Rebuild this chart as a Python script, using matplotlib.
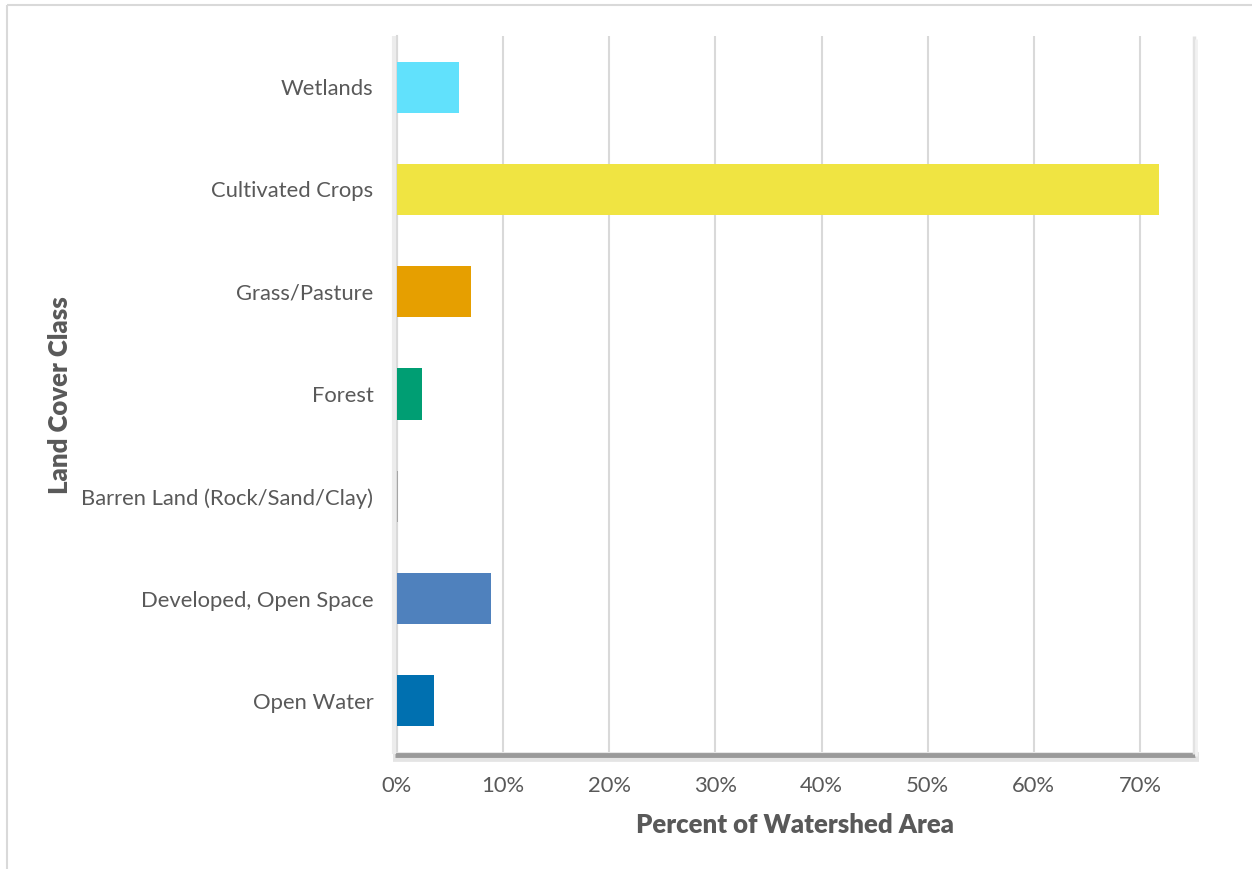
"""
Land cover breakdown of the watershed as a horizontal bar chart.
"""

import matplotlib.pyplot as plt
import numpy as np
from matplotlib.lines import Line2D
from matplotlib.ticker import FuncFormatter

# bottom -> top, as drawn on the category axis
classes = [
    "Open Water",
    "Developed, Open Space",
    "Barren Land (Rock/Sand/Clay)",
    "Forest",
    "Grass/Pasture",
    "Cultivated Crops",
    "Wetlands",
]
percent = [3.5, 8.9, 0.1, 2.4, 7.0, 71.8, 5.8]
colors = ["#0070B0", "#4F81BD", "#A6A6A6", "#009E73", "#E69F00", "#F0E442", "#61E1FC"]
xticks = [0, 10, 20, 30, 40, 50, 60, 70]

TEXT = "#595959"
GRID = "#D9D9D9"

plt.rcParams["font.family"] = ["Lato", "DejaVu Sans"]

W, H = 1252, 869
fig = plt.figure(figsize=(W / 100, H / 100), dpi=100)

# plot area in pixels: left, top, right, bottom
pl, pt, pr, pb = 397, 36, 1193, 752
ax = fig.add_axes([pl / W, 1 - pb / H, (pr - pl) / W, (pb - pt) / H])

y = np.arange(len(classes))
ax.barh(y, percent, height=0.5, color=colors, zorder=5)

ax.set_xlim(0, 75)
ax.set_ylim(-0.5, len(classes) - 0.5)
ax.set_xticks(xticks)
ax.xaxis.set_major_formatter(FuncFormatter(lambda v, _: f"{v:.0f}%"))
ax.set_yticks(y)
ax.set_yticklabels(classes)
ax.tick_params(axis="both", length=0, labelsize=15.8, labelcolor=TEXT)
ax.tick_params(axis="x", pad=17)
ax.tick_params(axis="y", pad=17)
ax.grid(axis="x", color=GRID, lw=1.5, zorder=0)

for side in ("top", "right", "bottom"):
    ax.spines[side].set_visible(False)
ax.spines["left"].set_color(GRID)
ax.spines["left"].set_linewidth(1.5)
ax.spines["left"].set_zorder(4)

# axis titles placed on the figure
fig.text(795 / W, 1 - 825 / H, "Percent of Watershed Area", fontsize=18.5,
         fontweight="heavy", color=TEXT, ha="center", va="center")
fig.text(60 / W, 1 - 395 / H, "Land Cover Class", fontsize=18.5,
         fontweight="heavy", color=TEXT, ha="center", va="center", rotation=90)


def fx(px):
    return px / W


def fy(px):
    return 1 - px / H


def line(x0, y0, x1, y1, color, lw):
    fig.add_artist(Line2D([fx(x0), fx(x1)], [fy(y0), fy(y1)], color=color,
                          lw=lw, solid_capstyle="butt", transform=fig.transFigure))


# plot-area shadow: soft halo, darker core along the bottom, faint on the sides
line(pl - 4, pb + 5, pr + 6, pb + 5, "#E4E4E4", 7)
line(pl - 2, pb + 3, pr + 2, pb + 3, "#9A9A9A", 3.5)
line(pr + 1, pt, pr + 1, pb + 2, "#E2E2E2", 2.5)
line(pr + 3, pt + 3, pr + 3, pb + 4, "#F1F1F1", 2)
line(pl - 3, pt, pl - 3, pb + 2, "#ECECEC", 3)

# chart-area border
line(7, 5, W, 5, GRID, 1.5)
line(7, 5, 7, H, GRID, 1.5)

fig.savefig("out.png", dpi=100)
